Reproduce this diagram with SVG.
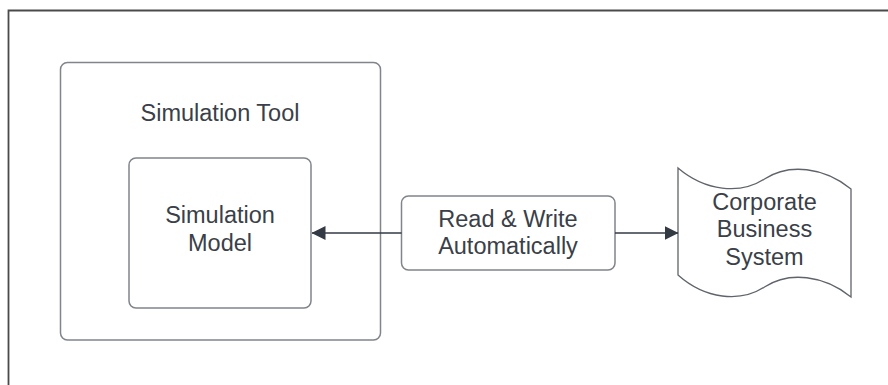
<svg xmlns="http://www.w3.org/2000/svg" width="888" height="385" viewBox="0 0 888 385">
  <style>
    .box { fill: #ffffff; stroke: #80848b; stroke-width: 1.5; }
    .shape { fill: #ffffff; stroke: #5f636b; stroke-width: 1.3; }
    .label { font-family: "Liberation Sans", Arial, sans-serif; font-size: 23.5px; fill: #3a4048; text-anchor: middle; }
    .link { fill: none; stroke: #333a44; stroke-width: 1.3; }
    .frame { fill: none; stroke: #4a4a4a; stroke-width: 1.8; }
  </style>
  <defs>
    <marker id="arrow" viewBox="0 0 14 14" refX="13.5" refY="7" markerWidth="14" markerHeight="14" markerUnits="userSpaceOnUse" orient="auto">
      <path d="M0,0 L14,7 L0,14 Z" fill="#333a44"/>
    </marker>
  </defs>

  <rect width="888" height="385" fill="#ffffff"/>
  <!-- page frame -->
  <path class="frame" d="M8.5,385 V10.5 H888"/>

  <g id="simulation-tool">
    <rect class="box" x="60.5" y="62.5" width="320" height="277.5" rx="7"/>
    <text class="label" x="220" y="121">Simulation Tool</text>
  </g>

  <g id="simulation-model">
    <rect class="box" x="129" y="158" width="182" height="150" rx="7"/>
    <text class="label" x="220" y="223">Simulation</text>
    <text class="label" x="220" y="251">Model</text>
  </g>

  <g id="read-write">
    <rect class="box" x="401.5" y="196" width="213.5" height="74" rx="7"/>
    <text class="label" x="508" y="227">Read &amp; Write</text>
    <text class="label" x="508" y="254">Automatically</text>
  </g>

  <g id="corporate-business-system">
    <path class="shape" d="M678,168 C705,191 740,195 764.5,179 C789,163 824,167 851,189 V297 C824,275 789,271 764.5,287 C740,303 705,299 678,275 Z"/>
    <text class="label" x="764.5" y="210">Corporate</text>
    <text class="label" x="764.5" y="237">Business</text>
    <text class="label" x="764.5" y="265">System</text>
  </g>

  <g id="connectors">
    <path class="link" d="M401.5,233 H312" marker-end="url(#arrow)"/>
    <path class="link" d="M615,233 H678" marker-end="url(#arrow)"/>
  </g>
</svg>
